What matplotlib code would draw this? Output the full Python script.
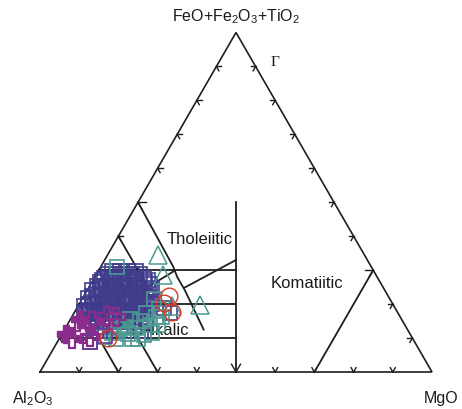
import numpy as np
import matplotlib
matplotlib.use("Agg")
import matplotlib.pyplot as plt

plt.rcParams['font.family'] = ['Liberation Sans', 'DejaVu Sans']
plt.rcParams['mathtext.fontset'] = 'custom'
plt.rcParams['mathtext.rm'] = 'Liberation Sans'
plt.rcParams['mathtext.it'] = 'Liberation Sans:italic'

# ---------------- data (percent FeO+Fe2O3+TiO2 and MgO; Al2O3 = rest) ----------------
blue_sq_fe = [28.9, 28.9, 28.9, 28.9, 28.9,
              26.5, 26.5, 26.5, 26.5, 26.5,
              24.2, 24.2, 24.2, 24.2, 24.2, 24.2,
              21.8, 21.8, 21.8, 21.8, 21.8, 21.8, 21.8,
              19.4, 19.4, 19.4, 19.4, 19.4, 19.4, 19.4,
              17.1, 17.1, 17.1, 17.1, 17.1, 17.1,
              14.7, 14.7, 14.7, 14.7, 14.7,
              12.1, 12.1, 12.1,
              27.7, 27.7, 27.7, 27.7, 27.7, 27.7,
              25.3, 25.3, 25.3, 25.3, 25.3,
              23.0, 23.0, 23.0, 23.0, 23.0,
              20.6, 20.6, 20.6, 20.6, 20.6, 20.6,
              18.3, 18.3, 18.3, 18.3, 18.3, 18.3,
              15.9, 15.9, 15.9, 15.9,
              29.7, 29.7, 29.7, 29.7,
              24.7, 24.7, 24.7, 24.7, 24.7, 24.7,
              22.4, 22.4, 22.4, 22.4, 22.4, 22.4,
              20.0, 20.0, 20.0, 20.0, 20.0, 20.0, 20.0,
              17.7, 17.7, 17.7, 17.7, 17.7, 17.7,
              15.3, 15.3, 15.3, 15.3, 15.3,
              13.3, 13.3, 13.3,
              27.1, 27.1, 27.1, 27.1, 27.1,
              17.4, 18.9, 25.9, 8.8]
blue_sq_mg = [2.9, 4.95, 6.95, 9.05, 11.05,
              2.05, 4.65, 7.15, 9.75, 13.55,
              1.2, 3.7, 6.3, 8.8, 12.1, 15.5,
              1.3, 3.9, 6.4, 9.0, 11.5, 14.6, 17.2,
              1.5, 4.1, 6.6, 9.2, 11.7, 14.8, 17.9,
              3.2, 5.7, 8.3, 11.3, 14.4, 17.5,
              5.9, 9.0, 12.0, 15.1, 18.2,
              9.3, 15.4, 19.7,
              2.5, 4.55, 6.55, 8.55, 10.65, 12.65,
              1.85, 4.15, 6.75, 9.25, 12.35,
              2.8, 5.3, 8.4, 11.5, 14.5,
              3.0, 5.5, 8.1, 10.6, 13.2, 16.2,
              3.65, 6.15, 8.75, 11.25, 14.35, 17.35,
              6.85, 9.95, 12.95, 16.05,
              3.55, 5.55, 7.55, 9.65,
              2.95, 5.55, 8.05, 10.65, 13.15, 16.25,
              2.1, 4.6, 7.2, 10.2, 13.3, 15.8,
              2.2, 4.8, 7.3, 9.9, 12.4, 15.5, 18.6,
              2.35, 4.95, 7.45, 10.05, 13.05, 16.15,
              4.55, 8.65, 11.75, 14.75, 19.35,
              7.65, 11.25, 17.35,
              2.25, 5.35, 7.85, 10.45, 14.05,
              24.5, 22.2, 15.1, 8.4]

teal_sq_fe = [11.5, 12.7, 11.2, 13.0, 10.9, 13.8, 16.2, 18.6, 15.0, 15.6, 17.4, 13.8, 10.3, 9.7, 30.9, 21.5,
              13.3, 15.0, 11.5, 16.2, 9.7, 9.7]
teal_sq_mg = [12.6, 14.05, 16.8, 18.0, 21.05, 21.2, 21.5, 21.1, 12.4, 15.2, 18.3, 23.2, 11.15, 20.15, 4.15, 18.35,
              14.75, 18.0, 22.85, 23.0, 18.65, 14.55]

teal_tri_fe = [34.5, 28.6, 19.4, 19.7]
teal_tri_mg = [12.85, 17.1, 24.0, 30.95]

red_ci_fe = [22.4, 20.3, 17.7, 10.0]
red_ci_mg = [21.7, 21.45, 24.85, 12.35]

purple_plus_fe = [15.0, 12.7, 16.5, 16.2, 11.2, 10.3, 12.1, 9.7]
purple_plus_mg = [5.8, 8.95, 8.85, 11.3, 5.4, 7.65, 3.65, 3.35]
purple_fill_fe = [11.2, 15.6]
purple_fill_mg = [1.0, 2.4]

purple_sq_fe = [8.8, 10.6]
purple_sq_mg = [8.4, 11.3]

# ---------------- diagram template (Al, Fe+Ti, Mg) ----------------
outline = [(100, 0, 0), (0, 0, 100), (0, 100, 0), (100, 0, 0)]
field_lines = [
    [(50, 0, 50), (25, 50, 25)],
    [(90, 10, 0), (45, 10, 45)],
    [(80, 20, 0), (40, 20, 40)],
    [(70, 30, 0), (35, 30, 35)],
    [(30, 0, 70), (0, 30, 70)],
    [(50, 50, 0), (50.5, 31, 18.5), (51, 28, 21), (51, 24, 25), (51.5, 18.5, 30), (52, 12.5, 35.5)],
    [(50.6, 24.9, 24.5), (33.5, 33, 33.5)],
    [(60, 40, 0), (60, 25, 15)],
    [(60, 25, 15), (51, 29.7, 19.3)],
    [(70, 30, 0), (70, 0, 30)],
    [(80, 20, 0), (80, 0, 20)],
]
tick_pcts = [10, 20, 30, 40, 50, 60, 70, 80, 90]

H = np.sqrt(3) / 2


def tern(al, fe, mg):
    al = np.asarray(al, float); fe = np.asarray(fe, float); mg = np.asarray(mg, float)
    s = al + fe + mg
    fe = fe / s; mg = mg / s
    return mg + fe / 2, fe * H


def xy(fe, mg):
    fe = np.asarray(fe, float); mg = np.asarray(mg, float)
    return tern(100 - fe - mg, fe, mg)


W, Hpx = 462, 410
fig = plt.figure(figsize=(W / 100, Hpx / 100), dpi=100)
ax = fig.add_axes([0, 0, 1, 1])
S = 392.0
ax.set_xlim(-40 / S, (W - 40) / S)
ax.set_ylim(-(Hpx - 373) / S, 373 / S)
ax.axis('off')

lc = '#1e1e1e'
pts = np.array(outline)
x, y = tern(pts[:, 0], pts[:, 1], pts[:, 2])
ax.plot(x, y, color=lc, lw=1.2, zorder=2, solid_joinstyle='miter')
for seg in field_lines:
    p = np.array(seg)
    x, y = tern(p[:, 0], p[:, 1], p[:, 2])
    ax.plot(x, y, color=lc, lw=1.3, zorder=2)

# arrow-like ticks on edges
L = 5 / S


def tick(px, py, angs, length=L):
    for a in angs:
        r = np.deg2rad(a)
        ax.plot([px, px + length * np.cos(r)], [py, py + length * np.sin(r)], color=lc, lw=1.0, zorder=2)


for t in tick_pcts:
    bx, by = tern(100 - t, 0, t)
    tick(bx, by, [60, 120], L * (1.8 if t == 50 else 1))
    lx, ly = tern(100 - t, t, 0)
    tick(lx, ly, [0, -60], L * (1.6 if t == 50 else 1))
    rx, ry = tern(0, t, 100 - t)
    tick(rx, ry, [180, 240], L * (1.6 if t == 30 else 1))


def P(px, py):
    return (px - 40) / S, (373 - py) / S


fs = 12
ax.text(*P(236.5, 21), 'FeO+Fe$_2$O$_3$+TiO$_2$', ha='center', va='baseline', fontsize=11.5, color='#1a1a1a')
ax.text(*P(12, 403), 'Al$_2$O$_3$', ha='left', va='baseline', fontsize=11.5, color='#1a1a1a')
ax.text(*P(458, 403), 'MgO', ha='right', va='baseline', fontsize=11.5, color='#1a1a1a')
ax.text(*P(275, 66.5), '\u0393', ha='center', va='baseline', fontsize=11,
        family=['Liberation Serif', 'DejaVu Serif'], color='#1a1a1a')
ax.text(*P(166.5, 244.3), 'Tholeiitic', ha='left', va='baseline', fontsize=fs, color='#1a1a1a', zorder=3)
ax.text(*P(270.5, 288.3), 'Komatiitic', ha='left', va='baseline', fontsize=fs, color='#1a1a1a', zorder=3)
ax.text(*P(189.5, 335), 'Alkalic', ha='right', va='baseline', fontsize=fs, color='#1a1a1a', zorder=3)

blue = '#403c8c'
teal = '#4a9a90'
purple = '#8a2c8c'
red = '#d23c28'

x, y = xy(blue_sq_fe, blue_sq_mg)
ax.plot(x, y, 's', ms=10.5, mfc='none', mec=blue, mew=1.2, zorder=4)
x, y = xy(teal_sq_fe, teal_sq_mg)
ax.plot(x, y, 's', ms=10.5, mfc='none', mec=teal, mew=1.2, zorder=5)
x, y = xy(purple_sq_fe, purple_sq_mg)
ax.plot(x, y, 's', ms=10.5, mfc='none', mec='#6a3a96', mew=1.2, zorder=5)
x, y = xy(teal_tri_fe, teal_tri_mg)
ax.plot(x, y, '^', ms=13, mfc='none', mec=teal, mew=1.1, zorder=5)
x, y = xy(purple_plus_fe, purple_plus_mg)
ax.plot(x, y, 'P', ms=12.5, mfc='none', mec=purple, mew=1.6, zorder=6)
x, y = xy(purple_fill_fe, purple_fill_mg)
ax.plot(x, y, 'P', ms=12.5, mfc=purple, mec=purple, mew=1.0, zorder=6)
x, y = xy(red_ci_fe, red_ci_mg)
ax.plot(x, y, 'o', ms=12, mfc='none', mec=red, mew=1.0, zorder=7)

fig.savefig('out.png', dpi=100)
